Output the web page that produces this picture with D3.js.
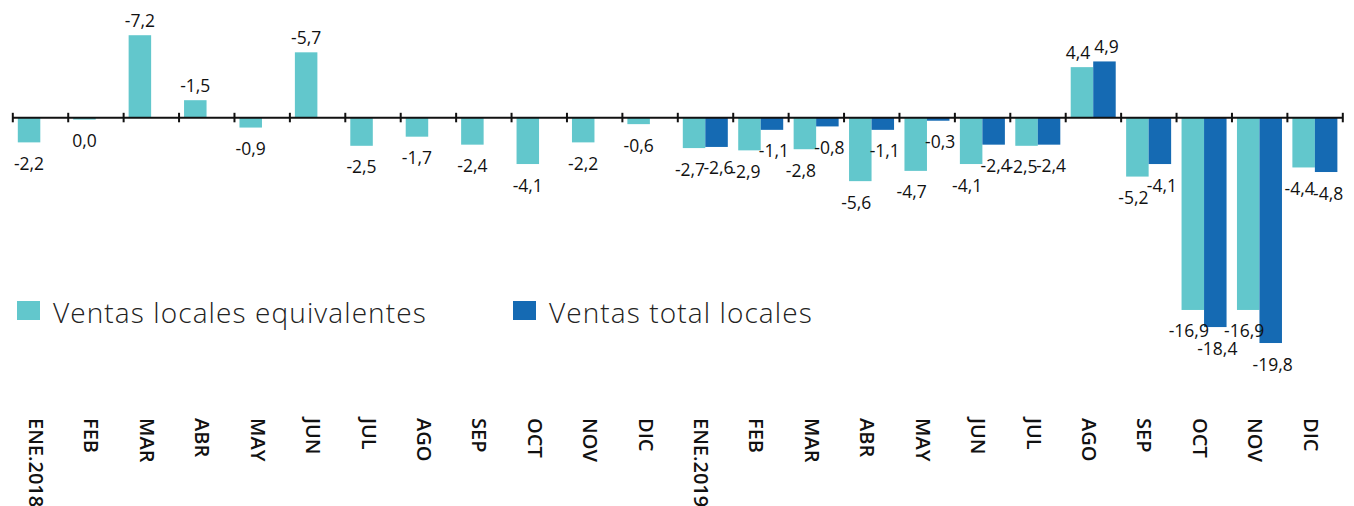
<!DOCTYPE html>
<html lang="es">
<head>
<meta charset="UTF-8" />
<title>Ventas locales</title>
<style>
  body { margin: 0; background: #fff; }
  svg { display: block; }
  .valor { font-family: "Open Sans", sans-serif; font-size: 17.5px; fill: #111; }
  .mes { font-family: "Open Sans", sans-serif; font-size: 20px; font-weight: 600; fill: #111; }
  .leyenda { font-family: "Open Sans", sans-serif; font-size: 28px; font-weight: 300; letter-spacing: 1.1px; fill: #222; }
</style>
</head>
<body>
<script src="https://cdn.jsdelivr.net/npm/d3@7"></script>
<div id="app"></div>
<script>
// DATOS
const meses = ["ENE.2018", "FEB", "MAR", "ABR", "MAY", "JUN", "JUL", "AGO", "SEP", "OCT", "NOV", "DIC",
               "ENE.2019", "FEB", "MAR", "ABR", "MAY", "JUN", "JUL", "AGO", "SEP", "OCT", "NOV", "DIC"];

const equivalentes = [-2.2, -0.2, 7.2, 1.5, -0.9, 5.7, -2.5, -1.7, -2.4, -4.1, -2.2, -0.6,
                      -2.7, -2.9, -2.8, -5.6, -4.7, -4.1, -2.5, 4.4, -5.2, -16.9, -16.9, -4.4];
const etiquetasEq = ["-2,2", "0,0", "-7,2", "-1,5", "-0,9", "-5,7", "-2,5", "-1,7", "-2,4", "-4,1", "-2,2", "-0,6",
                     "-2,7", "-2,9", "-2,8", "-5,6", "-4,7", "-4,1", "-2,5", "4,4", "-5,2", "-16,9", "-16,9", "-4,4"];

const totales = [null, null, null, null, null, null, null, null, null, null, null, null,
                 -2.6, -1.1, -0.8, -1.1, -0.3, -2.4, -2.4, 4.9, -4.1, -18.4, -19.8, -4.8];
const etiquetasTot = ["", "", "", "", "", "", "", "", "", "", "", "",
                      "-2,6", "-1,1", "-0,8", "-1,1", "-0,3", "-2,4", "-2,4", "4,9", "-4,1", "-18,4", "-19,8", "-4,8"];

const series = ["Ventas locales equivalentes", "Ventas total locales"];
const colores = ["#62c7cc", "#156ab3"];

// SVG
const w = 1354, h = 506;
const svg = d3.select("#app").append("svg").attr("width", w).attr("height", h);

// ESCALAS
const x = d3.scaleBand().domain(d3.range(meses.length)).range([12.3, 1342.3]);
const xSub = d3.scaleBand().domain([0, 1]).range([5.5, 50.5]);
const xBorde = d3.scaleLinear().domain([0, meses.length]).range([12.3, 1342.3]);
const y = d3.scaleLinear().domain([-20, 8]).range([117.3 + 20 * 11.4, 117.3 - 8 * 11.4]);

const filas = [];
meses.forEach((m, i) => {
  const par = totales[i] !== null;
  filas.push({ i: i, s: 0, v: equivalentes[i], t: etiquetasEq[i], dx: par ? -4 : 0 });
  if (par) filas.push({ i: i, s: 1, v: totales[i], t: etiquetasTot[i], dx: 2 });
});

// BARRAS
svg.selectAll("rect.bar")
  .data(filas)
  .enter()
  .append("rect")
  .attr("class", "bar")
  .attr("x", d => x(d.i) + xSub(d.s))
  .attr("width", xSub.bandwidth())
  .attr("y", d => Math.min(y(d.v), y(0)))
  .attr("height", d => Math.abs(y(d.v) - y(0)))
  .attr("fill", d => colores[d.s]);

// EJE
const eje = svg.append("g")
  .attr("transform", "translate(0," + y(0) + ")")
  .call(d3.axisBottom(xBorde).tickValues(d3.range(meses.length + 1)).tickSize(5).tickSizeOuter(0).tickFormat(""));
eje.select(".domain").attr("stroke", "#111").attr("stroke-width", 2);
eje.selectAll(".tick line").attr("stroke", "#111").attr("stroke-width", 2).attr("y1", -4.5);

// ETIQUETAS DE VALOR
svg.selectAll("text.valor")
  .data(filas)
  .enter()
  .append("text")
  .attr("class", "valor")
  .attr("text-anchor", "middle")
  .attr("x", d => x(d.i) + xSub(d.s) + xSub.bandwidth() / 2 + d.dx)
  .attr("y", d => d.v >= 0 ? y(d.v) - 8.5 : y(d.v) + 27.5)
  .text(d => d.t);

// MESES
svg.selectAll("text.mes")
  .data(meses)
  .enter()
  .append("text")
  .attr("class", "mes")
  .attr("transform", (d, i) => "translate(" + (x(i) + x.bandwidth() / 2 - 11) + ",418) rotate(90)")
  .text(d => d);

// LEYENDA
const leyenda = svg.selectAll("g.leyenda")
  .data(series)
  .enter()
  .append("g")
  .attr("transform", (d, i) => "translate(" + [17, 513][i] + ",301)");
leyenda.append("rect")
  .attr("width", 23)
  .attr("height", 19)
  .attr("fill", (d, i) => colores[i]);
leyenda.append("text")
  .attr("class", "leyenda")
  .attr("x", 36)
  .attr("y", 22)
  .text(d => d);
</script>
</body>
</html>
